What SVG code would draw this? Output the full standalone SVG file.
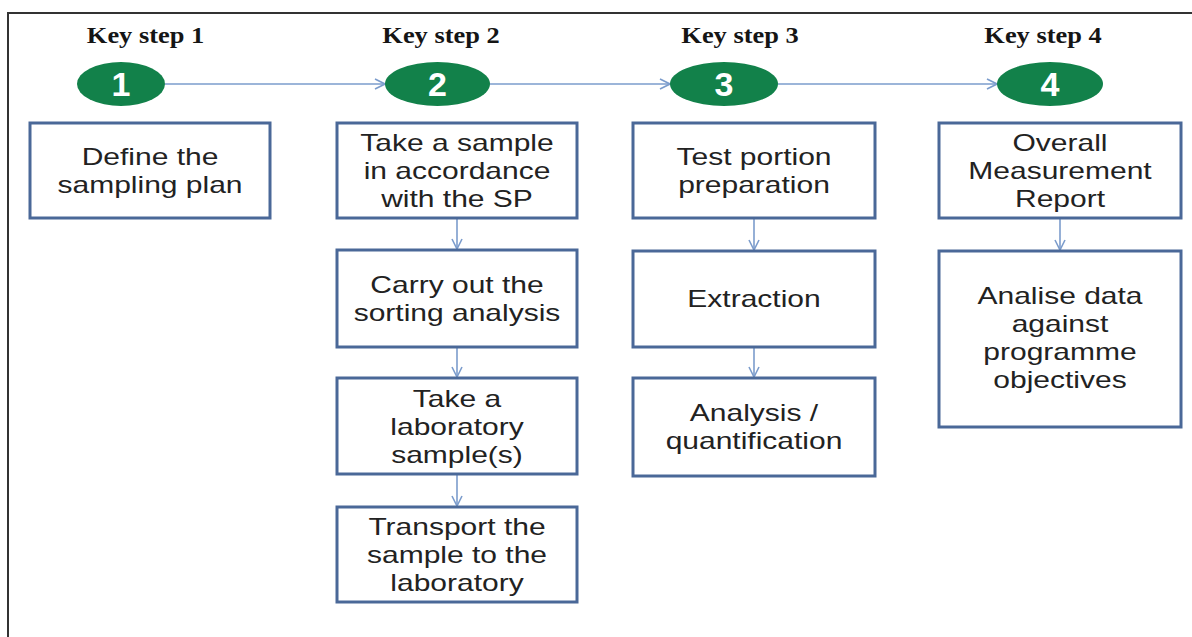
<svg xmlns="http://www.w3.org/2000/svg" width="1192" height="637" viewBox="0 0 1192 637">
<style>
.frame{stroke:#333;stroke-width:2;fill:none}
.box{fill:#fff;stroke:#4a6898;stroke-width:3}
.ell{fill:#12814a}
.num{font-family:"Liberation Sans",Arial,sans-serif;font-weight:bold;font-size:34px;fill:#fff;text-anchor:middle}
.key{font-family:"Liberation Serif","Times New Roman",serif;font-weight:bold;font-size:24px;fill:#151515;text-anchor:middle}
.t{font-family:"Liberation Sans",Arial,sans-serif;font-size:24px;fill:#222;text-anchor:middle}
.conn{stroke:#7b9ccc;stroke-width:1.6;fill:none}
</style>
<defs>
<marker id="arr" viewBox="0 0 12 12" refX="11" refY="6" markerWidth="12" markerHeight="12" markerUnits="userSpaceOnUse" orient="auto">
<path d="M1,1 L11,6 L1,11" fill="none" stroke="#7b9ccc" stroke-width="1.6"/>
</marker>
</defs>
<rect width="1192" height="637" fill="#fff"/>
<path class="frame" d="M8,637 V13 H1192"/>

<g id="connectors">
<line class="conn" x1="165" y1="84" x2="385" y2="84" marker-end="url(#arr)"/>
<line class="conn" x1="490" y1="84" x2="670" y2="84" marker-end="url(#arr)"/>
<line class="conn" x1="778" y1="84" x2="997" y2="84" marker-end="url(#arr)"/>
<line class="conn" x1="457" y1="219" x2="457" y2="249" marker-end="url(#arr)"/>
<line class="conn" x1="457" y1="348" x2="457" y2="377" marker-end="url(#arr)"/>
<line class="conn" x1="457" y1="475" x2="457" y2="506" marker-end="url(#arr)"/>
<line class="conn" x1="754" y1="219" x2="754" y2="250" marker-end="url(#arr)"/>
<line class="conn" x1="754" y1="348" x2="754" y2="377" marker-end="url(#arr)"/>
<line class="conn" x1="1060" y1="219" x2="1060" y2="250" marker-end="url(#arr)"/>
</g>

<g id="step1">
<g transform="translate(145.5,0) scale(1.1,1)"><text class="key" x="0" y="43">Key step 1</text></g>
<ellipse class="ell" cx="121" cy="84" rx="44" ry="22"/>
<text class="num" x="121" y="96">1</text>
</g>
<g id="step2">
<g transform="translate(441,0) scale(1.1,1)"><text class="key" x="0" y="43">Key step 2</text></g>
<ellipse class="ell" cx="437.5" cy="84" rx="52.5" ry="22"/>
<text class="num" x="437.5" y="96">2</text>
</g>
<g id="step3">
<g transform="translate(740,0) scale(1.1,1)"><text class="key" x="0" y="43">Key step 3</text></g>
<ellipse class="ell" cx="724" cy="84" rx="54" ry="22"/>
<text class="num" x="724" y="96">3</text>
</g>
<g id="step4">
<g transform="translate(1043,0) scale(1.1,1)"><text class="key" x="0" y="43">Key step 4</text></g>
<ellipse class="ell" cx="1050" cy="84" rx="53" ry="22"/>
<text class="num" x="1050" y="96">4</text>
</g>

<g id="box1">
<rect class="box" x="30" y="123" width="240" height="95"/>
<g transform="translate(150,0) scale(1.25,1)"><text class="t" x="0" y="165">Define the</text><text class="t" x="0" y="193">sampling plan</text></g>
</g>

<g id="box2a">
<rect class="box" x="337" y="123" width="240" height="95"/>
<g transform="translate(457,0) scale(1.25,1)"><text class="t" x="0" y="151">Take a sample</text><text class="t" x="0" y="179">in accordance</text><text class="t" x="0" y="207">with the SP</text></g>
</g>
<g id="box2b">
<rect class="box" x="337" y="250" width="240" height="97"/>
<g transform="translate(457,0) scale(1.25,1)"><text class="t" x="0" y="293">Carry out the</text><text class="t" x="0" y="321">sorting analysis</text></g>
</g>
<g id="box2c">
<rect class="box" x="337" y="378" width="240" height="96"/>
<g transform="translate(457,0) scale(1.25,1)"><text class="t" x="0" y="407">Take a</text><text class="t" x="0" y="435">laboratory</text><text class="t" x="0" y="463">sample(s)</text></g>
</g>
<g id="box2d">
<rect class="box" x="337" y="507" width="240" height="95"/>
<g transform="translate(457,0) scale(1.25,1)"><text class="t" x="0" y="535">Transport the</text><text class="t" x="0" y="563">sample to the</text><text class="t" x="0" y="591">laboratory</text></g>
</g>

<g id="box3a">
<rect class="box" x="633" y="123" width="242" height="95"/>
<g transform="translate(754,0) scale(1.25,1)"><text class="t" x="0" y="165">Test portion</text><text class="t" x="0" y="193">preparation</text></g>
</g>
<g id="box3b">
<rect class="box" x="633" y="251" width="242" height="96"/>
<g transform="translate(754,0) scale(1.25,1)"><text class="t" x="0" y="307">Extraction</text></g>
</g>
<g id="box3c">
<rect class="box" x="633" y="378" width="242" height="98"/>
<g transform="translate(754,0) scale(1.25,1)"><text class="t" x="0" y="421">Analysis /</text><text class="t" x="0" y="449">quantification</text></g>
</g>

<g id="box4a">
<rect class="box" x="939" y="123" width="242" height="95"/>
<g transform="translate(1060,0) scale(1.25,1)"><text class="t" x="0" y="151">Overall</text><text class="t" x="0" y="179">Measurement</text><text class="t" x="0" y="207">Report</text></g>
</g>
<g id="box4b">
<rect class="box" x="939" y="251" width="242" height="176"/>
<g transform="translate(1060,0) scale(1.25,1)"><text class="t" x="0" y="304">Analise data</text><text class="t" x="0" y="332">against</text><text class="t" x="0" y="360">programme</text><text class="t" x="0" y="388">objectives</text></g>
</g>
</svg>
